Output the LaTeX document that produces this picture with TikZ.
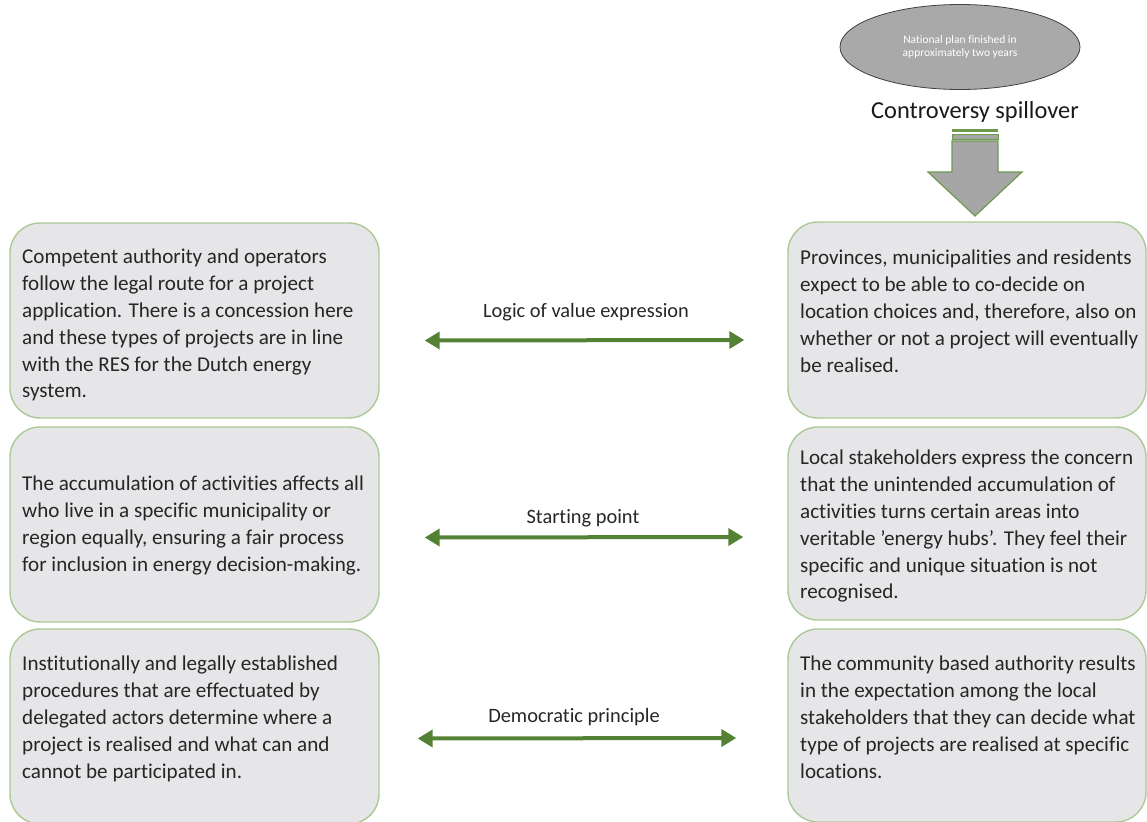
\documentclass[tikz,border=0pt]{standalone}
\usepackage{fontspec}
\setmainfont{Carlito}[Ligatures=CommonOff]
\usetikzlibrary{arrows.meta,shapes.geometric,calc}
\definecolor{boxgray}{HTML}{E6E5E8}
\definecolor{boxgreen}{HTML}{ABC995}
\definecolor{arrgreen}{HTML}{548235}
\definecolor{blockgray}{HTML}{A6A6A6}
\definecolor{blockgreen}{HTML}{6E9A50}
\definecolor{ellgray}{HTML}{A9A9A9}
\tikzset{
  box/.style={draw=boxgreen, fill=boxgray, line width=1.4pt, rounded corners=30pt, inner sep=0pt},
  boxtext/.style={anchor=north west, align=left, inner sep=0pt, font=\fontsize{21.1}{26.8}\selectfont, text=black!85},
  biarrow/.style={draw=arrgreen, line width=4pt, {Triangle[length=15pt,width=17pt]}-{Triangle[length=15pt,width=17pt]}},
  arrlabel/.style={font=\fontsize{20.4}{23}\selectfont, text=black!85, inner sep=0pt},
}
\begin{document}
\begin{tikzpicture}[x=1pt,y=-1pt]
\useasboundingbox (0,0) rectangle (1147,821);
% left boxes
\node[box, minimum width=369pt, minimum height=195pt] (L1) at (194.5,320.5) {};
\node[box, minimum width=369pt, minimum height=195pt] (L2) at (194.5,524.5) {};
\node[box, minimum width=369pt, minimum height=195pt] (L3) at (194.5,726.5) {};
% right boxes
\node[box, minimum width=358pt, minimum height=196pt] (R1) at (967,320) {};
\node[box, minimum width=358pt, minimum height=193pt] (R2) at (967,523.5) {};
\node[box, minimum width=358pt, minimum height=193pt] (R3) at (967,725.5) {};
% texts
\node[boxtext] (T1) at (22,249) {Competent authority and operators\\follow the legal route for a project\\application. There is a concession here\\and these types of projects are in line\\with the RES for the Dutch energy\\system.};
\node[boxtext] (T2) at (22,476) {The accumulation of activities affects all\\who live in a specific municipality or\\region equally, ensuring a fair process\\for inclusion in energy decision-making.};
\node[boxtext] (T3) at (22,656) {Institutionally and legally established\\procedures that are effectuated by\\delegated actors determine where a\\project is realised and what can and\\cannot be participated in.};
\node[boxtext] (T4) at (800,250) {Provinces, municipalities and residents\\expect to be able to co-decide on\\location choices and, therefore, also on\\whether or not a project will eventually\\be realised.};
\node[boxtext] (T5) at (800,450) {Local stakeholders express the concern\\that the unintended accumulation of\\activities turns certain areas into\\veritable {\char"0027}energy hubs'. They feel their\\specific and unique situation is not\\recognised.};
\node[boxtext] (T6) at (800,656) {The community based authority results\\in the expectation among the local\\stakeholders that they can decide what\\type of projects are realised at specific\\locations.};
% double arrows
\coordinate (a1l) at ($(L1.east)+(45,20)$);
\coordinate (a1r) at ($(R1.west)+(-43,20)$);
\draw[biarrow] (a1l) -- (a1r);
\node[arrlabel] (lab1) at (586,312) {Logic of value expression};
\coordinate (a2l) at ($(L2.east)+(45,13)$);
\coordinate (a2r) at ($(R2.west)+(-44,13.5)$);
\draw[biarrow] (a2l) -- (a2r);
\node[arrlabel] (lab2) at (583,518) {Starting point};
\coordinate (a3l) at ($(L3.east)+(38,12)$);
\coordinate (a3r) at ($(R3.west)+(-51,12.5)$);
\draw[biarrow] (a3l) -- (a3r);
\node[arrlabel] (lab3) at (574,717) {Democratic principle};
% ellipse
\node[ellipse, draw=black!75, fill=ellgray, line width=0.8pt, minimum width=240pt, minimum height=85pt, inner sep=0pt, align=center, text=white, font=\fontsize{11.5}{12.5}\selectfont] (E) at (960,47) {National plan finished in\\approximately two years};
\node[font=\fontsize{24.4}{28}\selectfont, text=black!90, inner sep=0pt] (CS) at (975,112) {Controversy spillover};
% block arrow
\fill[blockgreen] (952,129) rectangle (998,132.5);
\draw[blockgreen, fill=blockgray, line width=0.8pt] (952,134.5) rectangle (998,139.5);
\draw[blockgreen, fill=blockgray, line width=1.2pt, line join=miter] (952,141) -- (998,141) -- (998,172) -- (1022,172) -- (975,216) -- (928,172) -- (952,172) -- cycle;
\coordinate (tip) at (975,216);
\end{tikzpicture}
\end{document}
